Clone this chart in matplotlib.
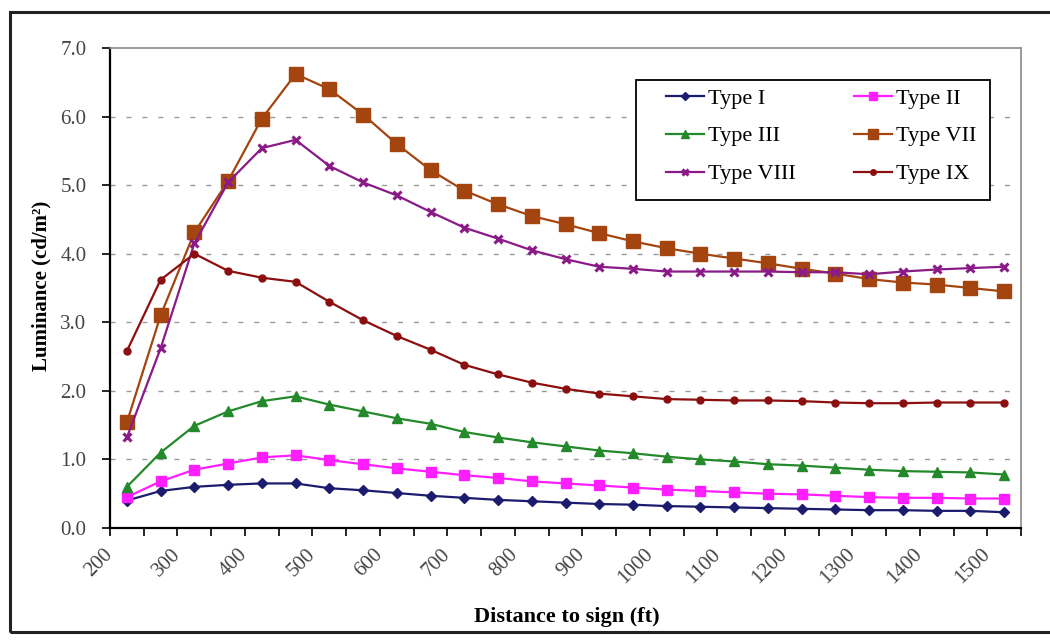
import matplotlib
matplotlib.use("Agg")
import matplotlib.pyplot as plt
from matplotlib.patches import Rectangle

# distance to sign (ft) for each measurement
distance = [225, 275, 325, 375, 425, 475, 525, 575, 625, 675, 725, 775, 825, 875,
            925, 975, 1025, 1075, 1125, 1175, 1225, 1275, 1325, 1375, 1425, 1475, 1525]

# luminance (cd/m2) per sheeting type
type_1 = [0.40, 0.54, 0.60, 0.63, 0.65, 0.65, 0.58, 0.55, 0.51, 0.47, 0.44, 0.41, 0.39, 0.37,
          0.35, 0.34, 0.32, 0.31, 0.30, 0.29, 0.28, 0.27, 0.26, 0.26, 0.25, 0.25, 0.23]
type_2 = [0.45, 0.68, 0.85, 0.94, 1.03, 1.06, 0.99, 0.93, 0.87, 0.82, 0.77, 0.73, 0.68, 0.65,
          0.62, 0.59, 0.56, 0.54, 0.52, 0.50, 0.49, 0.47, 0.45, 0.44, 0.44, 0.43, 0.43]
type_3 = [0.60, 1.10, 1.49, 1.70, 1.85, 1.92, 1.80, 1.70, 1.60, 1.52, 1.40, 1.32, 1.25, 1.19,
          1.13, 1.09, 1.04, 1.00, 0.97, 0.93, 0.91, 0.88, 0.85, 0.83, 0.82, 0.81, 0.78]
type_7 = [1.54, 3.10, 4.31, 5.06, 5.97, 6.62, 6.40, 6.03, 5.60, 5.22, 4.92, 4.72, 4.55, 4.43,
          4.30, 4.18, 4.08, 4.00, 3.93, 3.86, 3.78, 3.71, 3.63, 3.58, 3.55, 3.50, 3.45]
type_8 = [1.32, 2.62, 4.15, 5.04, 5.54, 5.66, 5.28, 5.04, 4.85, 4.61, 4.38, 4.22, 4.05, 3.92,
          3.81, 3.78, 3.74, 3.74, 3.74, 3.74, 3.73, 3.73, 3.70, 3.74, 3.77, 3.79, 3.81]
type_9 = [2.58, 3.62, 4.00, 3.75, 3.65, 3.59, 3.30, 3.03, 2.80, 2.60, 2.38, 2.24, 2.12, 2.03,
          1.96, 1.92, 1.88, 1.87, 1.86, 1.86, 1.85, 1.83, 1.82, 1.82, 1.83, 1.83, 1.83]

x_labels = [200, 300, 400, 500, 600, 700, 800, 900, 1000, 1100, 1200, 1300, 1400, 1500]
y_ticks = [0, 1, 2, 3, 4, 5, 6, 7]

plt.rcParams['font.family'] = ['Liberation Serif', 'DejaVu Serif']

W, H = 1050, 641
fig = plt.figure(figsize=(W / 100, H / 100), dpi=100)
ax = fig.add_axes([110 / W, 1 - 528 / H, (1021 - 110) / W, (528 - 48) / H])

series = [
    ("Type I", type_1, "#1c1c6e", "D", 5.0, 1.0),
    ("Type II", type_2, "#ff1eff", "s", 6.5, 1.0),
    ("Type III", type_3, "#24892a", "^", 6.5, 1.0),
    ("Type VII", type_7, "#a4440f", "s", 9.5, 1.0),
    ("Type VIII", type_8, "#8a1a88", "x", 6.0, 2.2),
    ("Type IX", type_9, "#8c0f10", "o", 5.0, 1.0),
]
handles = {}
for name, vals, col, mk, ms, mew in series:
    ln, = ax.plot(distance, vals, color=col, lw=1.6, marker=mk, ms=ms,
                  mfc=col, mec=col, mew=mew, zorder=2)
    handles[name] = ln

ax.set_xlim(200, 1550)
ax.set_ylim(0, 7)

# y axis
ax.set_yticks(y_ticks)
ax.set_yticklabels(["%.1f" % v for v in y_ticks])
ax.tick_params(axis='y', direction='out', length=6, width=1.2, pad=11,
               labelsize=15, labelcolor='#444444')

# x axis: labels every 100 ft, extra ticks in between
ax.set_xticks(x_labels)
ax.set_xticklabels([str(v) for v in x_labels], rotation=45, ha='right', va='center',
                   rotation_mode='anchor')
ax.set_xticks([v + 50 for v in x_labels], minor=True)
ax.tick_params(axis='x', which='both', direction='out', length=6, width=1.2, pad=11,
               labelsize=15, labelcolor='#444444')

for y in y_ticks[1:-1]:
    ax.axhline(y, color='#9a9a9a', lw=1.0, dashes=(3.6, 7.9), zorder=1)

for side in ['left', 'bottom']:
    ax.spines[side].set_color('black')
    ax.spines[side].set_linewidth(1.6)
for side in ['top', 'right']:
    ax.spines[side].set_color('#8a8a8a')
    ax.spines[side].set_linewidth(1.2)

fig.text(567 / W, 1 - 617 / H, "Distance to sign (ft)", ha='center', va='center',
         fontsize=16, fontweight='bold')
fig.text(41 / W, 1 - 286 / H, "Luminance (cd/m²)", ha='center', va='center',
         rotation=90, fontsize=15, fontweight='bold')

# legend box, white so the grid stops at it
box = Rectangle((636 / W, 1 - 200 / H), (990 - 636) / W, (200 - 80) / H,
                transform=fig.transFigure, facecolor='white', edgecolor='black',
                lw=1.3, zorder=3, clip_on=False)
ax.add_patch(box)
order = ["Type I", "Type III", "Type VIII", "Type II", "Type VII", "Type IX"]
leg = ax.legend([handles[n] for n in order], order, ncol=2, frameon=False,
                loc='upper left', bbox_to_anchor=(666 / W, 1 - 88 / H),
                bbox_transform=fig.transFigure, fontsize=16, handlelength=1.7,
                handletextpad=0.2, columnspacing=2.6, labelspacing=0.78,
                borderpad=0, borderaxespad=0, markerscale=0.8)
leg.set_zorder(5)

# outer frame
fig.add_artist(Rectangle((10 / W, 1 - 632 / H), 1.2, (632 - 12) / H,
                         transform=fig.transFigure, fill=False, edgecolor='#222222',
                         lw=2.2, clip_on=False))

fig.savefig("out.png", dpi=100)
